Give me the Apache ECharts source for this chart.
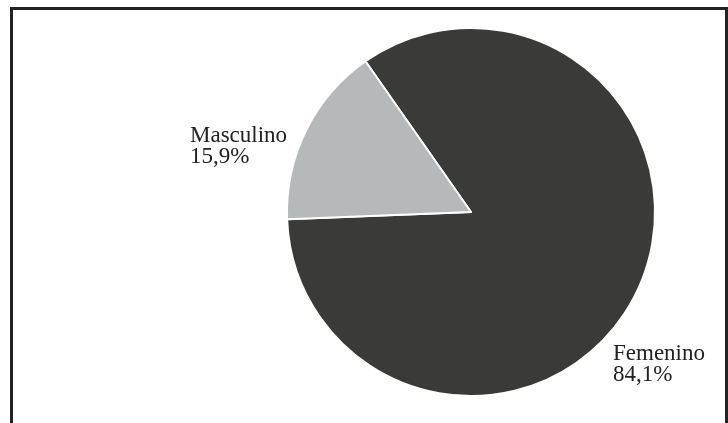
<!DOCTYPE html>
<html><head><meta charset="utf-8">
<script src="https://cdn.jsdelivr.net/npm/echarts@6/dist/echarts.min.js"></script>
<style>html,body{margin:0;padding:0;background:#fff}#c{width:728px;height:423px}</style>
</head><body><div id="c"></div>
<script>
const categories = ['Femenino', 'Masculino'];
const values = [84.1, 15.9];
const labelText = ['Femenino\n84,1%', 'Masculino\n15,9%'];
const colors = ['#3a3a39', '#b5b9ba'];

const chart = echarts.init(document.getElementById('c'), null, {renderer: 'canvas'});
const labelPos = [[613, 343], [190, 125]];
chart.setOption({
  animation: false,
  backgroundColor: '#ffffff',
  graphic: [{
    type: 'rect', shape: {x: 11.5, y: 8.5, width: 715, height: 500},
    style: {fill: 'none', stroke: '#232323', lineWidth: 3}, silent: true
  }],
  series: [{
    type: 'pie',
    center: [471, 212],
    radius: [0, 184],
    startAngle: 125,
    clockwise: true,
    data: categories.map((c, i) => ({name: c, value: values[i], itemStyle: {color: colors[i]}})),
    itemStyle: {borderColor: '#ffffff', borderWidth: 2},
    label: {
      show: true, position: 'outside', overflow: 'none',
      formatter: p => labelText[p.dataIndex],
      fontFamily: 'Liberation Serif, DejaVu Serif, serif',
      fontSize: 23, lineHeight: 21, color: '#222222', align: 'left'
    },
    labelLine: {show: false},
    labelLayout: p => ({x: labelPos[p.dataIndex][0], y: labelPos[p.dataIndex][1], align: 'left', verticalAlign: 'top', width: 200})
  }]
});
</script></body></html>
